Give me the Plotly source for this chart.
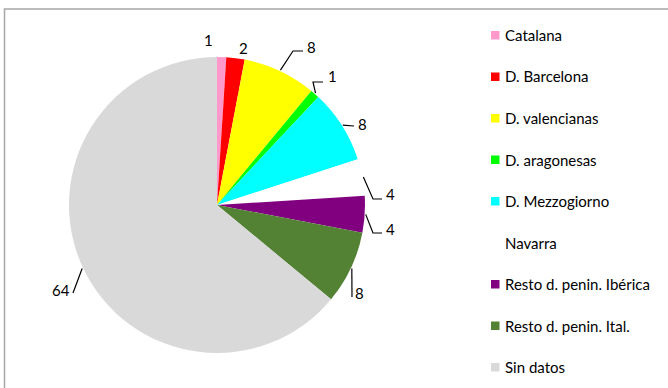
import math
import plotly.graph_objects as go

# ---- data ----
categories = ["Catalana", "D. Barcelona", "D. valencianas", "D. aragonesas",
              "D. Mezzogiorno", "Navarra", "Resto d. penin. Ibérica",
              "Resto d. penin. Ital.", "Sin datos"]
values = [1, 2, 8, 1, 8, 4, 4, 8, 64]
colors = ["#ff99cc", "#ff0000", "#ffff00", "#00ff00", "#00ffff",
          "#ffffff", "#800080", "#548235", "#d9d9d9"]

# ---- layout (pixels) ----
W, H = 668, 388
CX, CY, R = 217, 205, 148
FONT = "Lato, 'Noto Sans', sans-serif"

label_xy = [(208, 40), (243, 48), (311, 47), (332, 76), (362, 124),
            (390, 194), (390, 229), (359, 293), (61, 290)]
leader = [None, None, [(293, 51), (303, 51)], [(313, 82), (323, 82)],
          [(354, 126)], [(373, 199), (382, 199)], [(373, 233), (382, 233)],
          [(352, 297)], [(73, 293)]]

legend_x = 491
legend_y0 = 35
legend_dy = 41.5


def px(x):
    return x / W


def py(y):
    return 1 - y / H


fig = go.Figure(go.Pie(
    labels=categories, values=values, sort=False, direction="clockwise",
    rotation=0, marker=dict(colors=colors, line=dict(width=0)),
    textinfo="none", showlegend=False,
    domain=dict(x=[px(CX - R), px(CX + R)], y=[py(CY + R), py(CY - R)]),
))

shapes = []
annotations = []

# frame
shapes.append(dict(type="rect", xref="paper", yref="paper",
                   x0=px(4.5), x1=px(W + 10), y0=py(H + 10), y1=py(9),
                   line=dict(color="#a6a6a6", width=1.5), fillcolor="rgba(0,0,0,0)"))

total = sum(values)
cum = 0
for i, v in enumerate(values):
    mid = (cum + v / 2) / total * 2 * math.pi
    cum += v
    ex = CX + (R + 1) * math.sin(mid)
    ey = CY - (R + 1) * math.cos(mid)
    lx, ly = label_xy[i]
    annotations.append(dict(x=px(lx), y=py(ly), xref="paper", yref="paper",
                            text=str(v), showarrow=False,
                            xanchor="center", yanchor="middle",
                            font=dict(family=FONT, size=15, color="#000")))
    if leader[i]:
        pts = [(ex, ey)] + leader[i]
        path = "M " + " L ".join(f"{px(a)},{py(b)}" for a, b in pts)
        shapes.append(dict(type="path", xref="paper", yref="paper", path=path,
                           line=dict(color="#000", width=1.2)))

# manual legend
for i, (c, col) in enumerate(zip(categories, colors)):
    yy = legend_y0 + i * legend_dy
    if col.lower() != "#ffffff":
        shapes.append(dict(type="rect", xref="paper", yref="paper",
                           x0=px(legend_x), x1=px(legend_x + 8.5),
                           y0=py(yy + 4.5), y1=py(yy - 4),
                           fillcolor=col, line=dict(width=0)))
    annotations.append(dict(x=px(legend_x + 12), y=py(yy), xref="paper", yref="paper",
                            text=c, showarrow=False, xanchor="left", yanchor="middle",
                            font=dict(family=FONT, size=15, color="#000")))

fig.update_layout(
    width=W, height=H, margin=dict(l=0, r=0, t=0, b=0),
    paper_bgcolor="white", plot_bgcolor="white",
    shapes=shapes, annotations=annotations, showlegend=False,
)

fig.write_html("out.html")
